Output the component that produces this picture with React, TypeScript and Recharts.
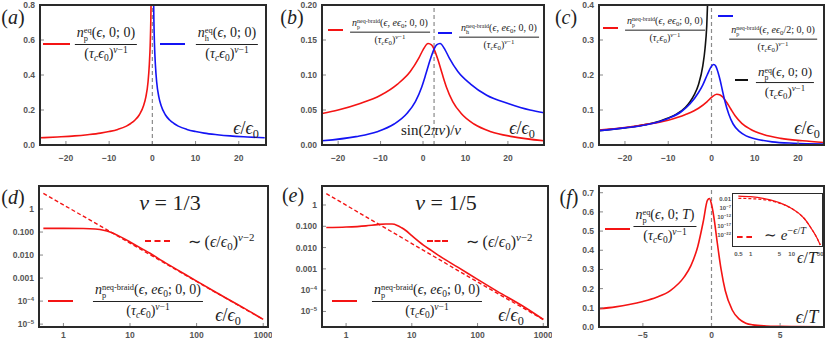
import React from "react"
import { LineChart, Line, XAxis, YAxis, ReferenceLine } from "recharts"

// (a) equilibrium distributions, particle (red) and hole (blue)
const aRedX = [-26, -22, -18, -15, -12, -10, -8, -6, -5, -4, -3, -2, -1.5, -1, -0.7, -0.5, -0.35, -0.25]
const aRedY = [0.041, 0.046, 0.052, 0.059, 0.068, 0.077, 0.089, 0.108, 0.123, 0.143, 0.173, 0.227, 0.275, 0.36, 0.46, 0.57, 0.72, 0.9]
const aBlueX = [0.25, 0.35, 0.5, 0.7, 1, 1.5, 2, 3, 4, 5, 6, 8, 10, 12, 15, 18, 22, 26]
const aBlueY = [0.9, 0.72, 0.57, 0.46, 0.36, 0.275, 0.227, 0.173, 0.143, 0.123, 0.108, 0.089, 0.077, 0.068, 0.059, 0.052, 0.046, 0.041]

// (b) non-equilibrium braiding
const bRedX = [-23.8, -20, -15, -10, -6, -3, -1, 0, 1.2, 2, 2.6, 3.5, 4.5, 5.5, 7, 9, 12, 16, 21, 28.5]
const bRedY = [0.045, 0.05, 0.059, 0.071, 0.087, 0.105, 0.124, 0.136, 0.145, 0.143, 0.137, 0.122, 0.102, 0.083, 0.062, 0.045, 0.03, 0.019, 0.012, 0.006]
const bBlueX = [-23.8, -15.8, -10.8, -6.8, -3.8, -1.8, -0.3, 0.7, 1.7, 2.6, 3.2, 4, 5.2, 6.2, 8.2, 11.2, 15, 20.2, 25.2, 28.5]
const bBlueY = [0.006, 0.012, 0.019, 0.03, 0.045, 0.062, 0.083, 0.102, 0.122, 0.137, 0.143, 0.145, 0.136, 0.124, 0.105, 0.087, 0.071, 0.059, 0.05, 0.046]
const bMark = 2.6

// (c) comparison
const cBlackX = [-26, -22, -18, -15, -12, -10, -8, -6, -5, -4, -3, -2, -1.5, -1.1, -0.8]
const cBlackY = [0.041, 0.046, 0.052, 0.059, 0.068, 0.077, 0.089, 0.108, 0.123, 0.143, 0.173, 0.227, 0.275, 0.34, 0.44]
const cRedX = [-26, -20, -15, -10, -6, -3, -1, 0, 1.2, 2, 2.6, 3.5, 4.5, 5.5, 7, 9, 12, 16, 21, 26]
const cRedY = [0.043, 0.05, 0.059, 0.071, 0.087, 0.105, 0.124, 0.136, 0.145, 0.143, 0.137, 0.122, 0.102, 0.083, 0.062, 0.045, 0.03, 0.019, 0.012, 0.007]
const cBlueX = [-26, -20, -15, -10, -7, -5, -3, -2, -1, 0, 0.5, 1, 1.5, 2, 2.5, 3, 4, 5, 6.5, 8, 10, 14, 19, 26]
const cBlueY = [0.041, 0.049, 0.058, 0.076, 0.095, 0.117, 0.15, 0.172, 0.2, 0.225, 0.23, 0.225, 0.208, 0.185, 0.157, 0.13, 0.088, 0.06, 0.038, 0.026, 0.018, 0.009, 0.005, 0.003]

// (d) nu = 1/3, log-log
const dX = [0.5, 1, 2, 3, 4, 5, 6, 8, 10, 15, 20, 30, 50, 100, 200, 500, 1000]
const dSolid = [0.145, 0.145, 0.143, 0.135, 0.12, 0.1, 0.08, 0.053, 0.037, 0.019, 0.012, 0.0057, 0.0024, 7.4e-4, 2.3e-4, 5.2e-5, 1.6e-5]
const dDashX = [0.5, 1, 10, 100, 1000]
const dDash = [4.8, 1.52, 0.033, 7.1e-4, 1.6e-5]

// (e) nu = 1/5, log-log
const eX = [0.5, 1, 2, 3, 4, 5, 6, 7, 8, 10, 15, 20, 30, 50, 100, 200, 500, 1000]
const eSolid = [0.087, 0.092, 0.105, 0.12, 0.128, 0.127, 0.11, 0.085, 0.065, 0.036, 0.013, 0.0072, 0.0031, 0.0012, 3.2e-4, 8.8e-5, 1.7e-5, 4.2e-6]
const eDashX = [0.5, 1, 10, 100, 1000]
const eDash = [3.4, 0.98, 0.0155, 2.45e-4, 4.2e-6]

// (f) finite temperature
const fX = [-8.2, -7, -6, -5, -4, -3, -2, -1.5, -1, -0.6, -0.3, -0.15, 0, 0.2, 0.4, 0.7, 1, 1.5, 2, 2.5, 3, 4, 5, 6, 8.2]
const fY = [0.095, 0.105, 0.117, 0.133, 0.155, 0.19, 0.26, 0.32, 0.42, 0.55, 0.66, 0.67, 0.64, 0.56, 0.45, 0.3, 0.19, 0.09, 0.042, 0.02, 0.011, 0.005, 0.003, 0.002, 0.001]
// inset (log-log)
const iX = [0.5, 1, 2, 3, 5, 7, 10, 15, 20, 25, 30, 35, 40, 45, 50]
const iSolid = [0.45, 0.2, 0.025, 0.0032, 1e-4, 4e-6, 6e-8, 1e-10, 2e-13, 3e-16, 5e-19, 2e-21, 1e-23, 5e-26, 2.5e-28]
const iDash = [0.025, 0.015, 0.005, 0.0012, 5e-5, 3e-6, 5e-8, 1e-10, 2e-13, 3e-16, 5e-19, 2e-21, 1e-23, 5e-26, 2.5e-28]

const logYTicks = [1e-5, 1e-4, 1e-3, 1e-2, 1e-1, 1]
const logYLabels = ["10^−5", "10^−4", "0.001", "0.010", "0.100", "1"]
const logXTicks = [1, 10, 100, 1000]
const insetYTicks = [1e-22, 1e-17, 1e-12, 1e-7, 0.01]
const insetYLabels = ["10^−22", "10^−17", "10^−12", "10^−7", "0.01"]
const insetXTicks = [0.5, 1, 5, 10, 50]

const pts = (xs: number[], ys: number[]) => xs.map((x, i) => ({ x, y: ys[i] }))

const RED = "#f41414"
const BLUE = "#1414f4"
const serif = "'Liberation Serif', 'Times New Roman', Times, serif"
const sans = "'Liberation Sans', Arial, sans-serif"
const tickStyle = { fontSize: 8.5, fontWeight: 700, fill: "#555", fontFamily: sans }
const tickLn = { stroke: "#888", strokeWidth: 1 }
const minus = (v: number) => String(v).replace("-", "−")

const PowTick = (props: any) => {
  const { x, y, payload, ticks, labels, fs = 8.5, anchor = "end" } = props
  const i = ticks.findIndex((t: number) => Math.abs(Math.log10(t) - Math.log10(payload.value)) < 1e-6)
  const lab: string = labels[i] ?? ""
  const [b, e] = lab.split("^")
  return (
    <text x={x} y={y} dy="0.35em" textAnchor={anchor} fontSize={fs} fontWeight={700} fill="#555" fontFamily={sans}>
      {b}
      {e && <tspan dy={-fs * 0.4} fontSize={fs * 0.7}>{e}</tspan>}
    </text>
  )
}

const Sub = ({ children }: any) => <span style={{ fontSize: "0.68em", verticalAlign: "-0.3em", lineHeight: 0 }}>{children}</span>
const Sup = ({ children }: any) => <span style={{ fontSize: "0.68em", verticalAlign: "0.55em", lineHeight: 0 }}>{children}</span>
const Eps = () => <i>ϵ</i>
const Den = () => (
  <span>(<i>τ</i><Sub><i>c</i></Sub><Eps /><Sub>0</Sub>)<Sup><i>ν</i>−1</Sup></span>
)
const N = ({ sup, sub }: any) => (
  <span>
    <i>n</i>
    <span style={{ display: "inline-flex", flexDirection: "column", fontSize: "0.6em", lineHeight: 0.95, verticalAlign: "0.45em" }}>
      <span>{sup}</span>
      <span>{sub}</span>
    </span>
  </span>
)
const Frac = ({ num, fs }: any) => (
  <span style={{ display: "inline-flex", flexDirection: "column", alignItems: "center", fontSize: fs, lineHeight: 1.2 }}>
    <span style={{ padding: "0 2px 1px" }}>{num}</span>
    <span style={{ borderTop: "1px solid #222", padding: "1px 2px 0", alignSelf: "stretch", textAlign: "center" }}><Den /></span>
  </span>
)
const EpsRatio = () => (<span><Eps />/<Eps /><Sub>0</Sub></span>)

const At = ({ x, y, fs = 14, children }: any) => (
  <div style={{ position: "absolute", left: x, top: y, transform: "translate(-50%,-50%)", fontFamily: serif, fontSize: fs, color: "#222", whiteSpace: "nowrap", lineHeight: 1 }}>
    {children}
  </div>
)
const Swatch = ({ x1, x2, y, color, dashed }: any) => (
  <div style={{ position: "absolute", left: x1, top: y - 1, width: x2 - x1, borderTop: `2px ${dashed ? "dashed" : "solid"} ${color}` }} />
)
const Frame = ({ l, t, r, b, bw = 2 }: any) => (
  <div style={{ position: "absolute", left: l - 1, top: t - 1, width: r - l + 2, height: b - t + 2, border: `${bw}px solid #2a2a2a`, boxSizing: "border-box" }} />
)
const Box = ({ left, top, children }: any) => <div style={{ position: "absolute", left, top }}>{children}</div>

const line = (data: any[], color: string, dash?: string, w = 1.6) => (
  <Line data={data} dataKey="y" stroke={color} strokeWidth={w} strokeDasharray={dash} dot={false} type="monotone" isAnimationActive={false} />
)

export default function App() {
  // ticks point inward, as on a framed plot
  const common = { tickLine: tickLn, axisLine: false, tickSize: -4, interval: 0 as const, allowDataOverflow: true }
  return (
    <div style={{ position: "absolute", left: 0, top: 0, width: 830, height: 342, background: "#fff", overflow: "hidden" }}>
      {/* (a) */}
      <Box left={0} top={0}>
        <LineChart width={270} height={165} margin={{ top: 5, right: 4, bottom: 0, left: 0 }}>
          <XAxis type="number" dataKey="x" domain={[-26, 26.3]} ticks={[-20, -10, 0, 10, 20]} tickFormatter={minus} tick={tickStyle} tickMargin={14} height={20} {...common} />
          <YAxis type="number" domain={[0, 0.8]} ticks={[0, 0.2, 0.4, 0.6, 0.8]} tickFormatter={(v: number) => v.toFixed(1)} tick={tickStyle} tickMargin={9} width={40} {...common} />
          <ReferenceLine x={0} stroke="#8a8a8a" strokeDasharray="4 3" strokeWidth={1.2} />
          {line(pts(aRedX, aRedY), RED)}
          {line(pts(aBlueX, aBlueY), BLUE)}
        </LineChart>
      </Box>
      {/* (b) */}
      <Box left={280} top={0}>
        <LineChart width={268} height={165} margin={{ top: 5, right: 4, bottom: 0, left: 0 }}>
          <XAxis type="number" dataKey="x" domain={[-23.8, 28.5]} ticks={[-20, -10, 0, 10, 20]} tickFormatter={minus} tick={tickStyle} tickMargin={14} height={20} {...common} />
          <YAxis type="number" domain={[0, 0.2]} ticks={[0, 0.05, 0.1, 0.15, 0.2]} tickFormatter={(v: number) => v.toFixed(2)} tick={tickStyle} tickMargin={9} width={42} {...common} />
          <ReferenceLine x={bMark} stroke="#8a8a8a" strokeDasharray="4 3" strokeWidth={1.2} />
          {line(pts(bRedX, bRedY), RED)}
          {line(pts(bBlueX, bBlueY), BLUE)}
        </LineChart>
      </Box>
      {/* (c) */}
      <Box left={555} top={0}>
        <LineChart width={273} height={165} margin={{ top: 5, right: 4, bottom: 0, left: 0 }}>
          <XAxis type="number" dataKey="x" domain={[-26, 26]} ticks={[-20, -10, 0, 10, 20]} tickFormatter={minus} tick={tickStyle} tickMargin={14} height={20} {...common} />
          <YAxis type="number" domain={[0, 0.4]} ticks={[0, 0.1, 0.2, 0.3, 0.4]} tickFormatter={(v: number) => v.toFixed(1)} tick={tickStyle} tickMargin={9} width={44} {...common} />
          <ReferenceLine x={0} stroke="#8a8a8a" strokeDasharray="4 3" strokeWidth={1.2} />
          {line(pts(cBlackX, cBlackY), "#111")}
          {line(pts(cRedX, cRedY), RED)}
          {line(pts(cBlueX, cBlueY), BLUE)}
        </LineChart>
      </Box>
      {/* (d) */}
      <Box left={0} top={181}>
        <LineChart width={272} height={161} margin={{ top: 5, right: 4, bottom: 0, left: 0 }}>
          <XAxis type="number" dataKey="x" scale="log" domain={[0.43, 1180]} ticks={logXTicks} tickFormatter={(v: number) => String(v)} tick={tickStyle} tickMargin={9} height={15} {...common} />
          <YAxis type="number" scale="log" domain={[7.5e-6, 10]} ticks={logYTicks} tick={(p: any) => <PowTick {...p} ticks={logYTicks} labels={logYLabels} />} tickMargin={9} width={39} {...common} />
          {line(pts(dDashX, dDash), RED, "4 2.5", 1.4)}
          {line(pts(dX, dSolid), RED)}
        </LineChart>
      </Box>
      {/* (e) */}
      <Box left={280} top={181}>
        <LineChart width={272} height={161} margin={{ top: 5, right: 4, bottom: 0, left: 0 }}>
          <XAxis type="number" dataKey="x" scale="log" domain={[0.43, 1180]} ticks={logXTicks} tickFormatter={(v: number) => String(v)} tick={tickStyle} tickMargin={9} height={15} {...common} />
          <YAxis type="number" scale="log" domain={[1.86e-6, 7.8]} ticks={logYTicks} tick={(p: any) => <PowTick {...p} ticks={logYTicks} labels={logYLabels} />} tickMargin={9} width={42} {...common} />
          {line(pts(eDashX, eDash), RED, "4 2.5", 1.4)}
          {line(pts(eX, eSolid), RED)}
        </LineChart>
      </Box>
      {/* (f) */}
      <Box left={555} top={181}>
        <LineChart width={273} height={161} margin={{ top: 5, right: 4, bottom: 0, left: 0 }}>
          <XAxis type="number" dataKey="x" domain={[-8.2, 8.2]} ticks={[-5, 0, 5]} tickFormatter={minus} tick={tickStyle} tickMargin={9} height={15} {...common} />
          <YAxis type="number" domain={[0, 0.735]} ticks={[0, 0.1, 0.2, 0.3, 0.4, 0.5, 0.6, 0.7]} tickFormatter={(v: number) => v.toFixed(1)} tick={tickStyle} tickMargin={9} width={44} {...common} />
          <ReferenceLine x={0} stroke="#8a8a8a" strokeDasharray="4 3" strokeWidth={1.2} />
          {line(pts(fX, fY), RED)}
        </LineChart>
      </Box>
      {/* inset of (f) */}
      <div style={{ position: "absolute", left: 732, top: 193, width: 91, height: 54, background: "#fff" }} />
      <Box left={713} top={194}>
        <LineChart width={113} height={66} margin={{ top: 0, right: 4, bottom: 0, left: 0 }}>
          <XAxis type="number" dataKey="x" scale="log" domain={[0.37, 55]} ticks={insetXTicks} tickFormatter={(v: number) => String(v)} tick={{ ...tickStyle, fontSize: 6 }} tickMargin={6} height={14} {...common} tickLine={false} tickSize={0} />
          <YAxis type="number" scale="log" domain={[8e-29, 6]} ticks={insetYTicks} tick={(p: any) => <PowTick {...p} ticks={insetYTicks} labels={insetYLabels} fs={6} />} tickMargin={2} width={20} {...common} tickLine={false} tickSize={0} />
          {line(pts(iX, iDash), RED, "3 2", 1.2)}
          {line(pts(iX, iSolid), RED, undefined, 1.2)}
        </LineChart>
      </Box>

      <Frame l={40} t={5} r={266} b={145} />
      <Frame l={322} t={5} r={544} b={145} />
      <Frame l={599} t={5} r={824} b={145} />
      <Frame l={39} t={186} r={268} b={327} />
      <Frame l={322} t={186} r={548} b={327} />
      <Frame l={599} t={186} r={824} b={327} />
      <Frame l={733} t={194} r={822} b={246} bw={1.5} />

      {/* panel tags */}
      <At x={13} y={17} fs={20}>(<i>a</i>)</At>
      <At x={292} y={17} fs={20}>(<i>b</i>)</At>
      <At x={566} y={17} fs={20}>(<i>c</i>)</At>
      <At x={13} y={197} fs={20}>(<i>d</i>)</At>
      <At x={293} y={195} fs={20}>(<i>e</i>)</At>
      <At x={569} y={197} fs={20}>(<i>f</i>)</At>

      {/* (a) legend */}
      <Swatch x1={43} x2={70} y={44} color={RED} />
      <At x={106} y={44}><Frac fs={14} num={<span><N sup="eq" sub="p" />(<Eps />, 0; 0)</span>} /></At>
      <Swatch x1={160} x2={185} y={44} color={BLUE} />
      <At x={227} y={44}><Frac fs={14} num={<span><N sup="eq" sub="h" />(<Eps />, 0; 0)</span>} /></At>
      <At x={246} y={128} fs={18}><EpsRatio /></At>

      {/* (b) legend */}
      <Swatch x1={328} x2={343} y={30} color={RED} />
      <At x={390} y={30}><Frac fs={10} num={<span><N sup="neq-braid" sub="p" />(<Eps />, <i>e</i><Eps /><Sub>0</Sub>; 0, 0)</span>} /></At>
      <Swatch x1={438} x2={452} y={33} color={BLUE} />
      <At x={499} y={35}><Frac fs={10} num={<span><N sup="neq-braid" sub="h" />(<Eps />, <i>e</i><Eps /><Sub>0</Sub>; 0, 0)</span>} /></At>
      <At x={431} y={130} fs={15}>sin(2<i>πν</i>)/<i>ν</i></At>
      <At x={522} y={128} fs={18}><EpsRatio /></At>

      {/* (c) legend */}
      <Swatch x1={603} x2={618} y={28} color={RED} />
      <At x={665} y={28}><Frac fs={10} num={<span><N sup="neq-braid" sub="p" />(<Eps />, <i>e</i><Eps /><Sub>0</Sub>; 0, 0)</span>} /></At>
      <Swatch x1={718} x2={733} y={16} color={BLUE} />
      <At x={773} y={37}><Frac fs={10} num={<span><N sup="neq-braid" sub="p" />(<Eps />, <i>e</i><Eps /><Sub>0</Sub>/2; 0, 0)</span>} /></At>
      <Swatch x1={735} x2={748} y={80} color="#111" />
      <At x={785} y={82}><Frac fs={13} num={<span><N sup="eq" sub="p" />(<Eps />, 0; 0)</span>} /></At>
      <At x={807} y={128} fs={18}><EpsRatio /></At>

      {/* (d) legend */}
      <At x={170} y={203} fs={22}><i>ν</i> = 1/3</At>
      <Swatch x1={145} x2={170} y={241} color={RED} dashed />
      <At x={221} y={242} fs={16}>∼ (<EpsRatio />)<Sup><i>ν</i>−2</Sup></At>
      <Swatch x1={48} x2={73} y={301} color={RED} />
      <At x={148} y={301}><Frac fs={14} num={<span><N sup="neq-braid" sub="p" />(<Eps />, <i>e</i><Eps /><Sub>0</Sub>; 0, 0)</span>} /></At>
      <At x={228} y={315} fs={18}><EpsRatio /></At>

      {/* (e) legend */}
      <At x={446} y={203} fs={22}><i>ν</i> = 1/5</At>
      <Swatch x1={427} x2={448} y={241} color={RED} dashed />
      <At x={499} y={242} fs={16}>∼ (<EpsRatio />)<Sup><i>ν</i>−2</Sup></At>
      <Swatch x1={332} x2={357} y={301} color={RED} />
      <At x={427} y={301}><Frac fs={14} num={<span><N sup="neq-braid" sub="p" />(<Eps />, <i>e</i><Eps /><Sub>0</Sub>; 0, 0)</span>} /></At>
      <At x={511} y={315} fs={18}><EpsRatio /></At>

      {/* (f) legend */}
      <Swatch x1={605} x2={630} y={229} color={RED} />
      <At x={665} y={226}><Frac fs={14} num={<span><N sup="eq" sub="p" />(<Eps />, 0; <i>T</i>)</span>} /></At>
      <At x={807} y={317} fs={18}><Eps />/<i>T</i></At>
      <Swatch x1={737} x2={752} y={237} color={RED} dashed />
      <At x={785} y={235} fs={15}>∼ <i>e</i><Sup>−<Eps />/<i>T</i></Sup></At>
      <At x={807} y={258} fs={16}><Eps />/<i>T</i></At>
    </div>
  )
}
